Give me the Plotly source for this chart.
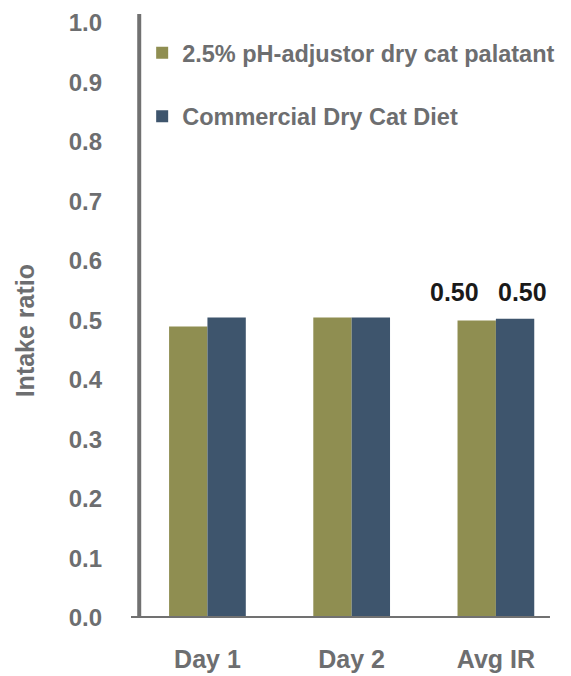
import plotly.graph_objects as go

# Intake ratio per day and averaged, for the two diets
categories = ["Day 1", "Day 2", "Avg IR"]
palatant_name = "2.5% pH-adjustor dry cat palatant"
commercial_name = "Commercial Dry Cat Diet"
palatant_values = [0.49, 0.505, 0.50]
commercial_values = [0.505, 0.505, 0.503]
y_ticks = [0.0, 0.1, 0.2, 0.3, 0.4, 0.5, 0.6, 0.7, 0.8, 0.9, 1.0]
y_title = "Intake ratio"

OLIVE = "#8f8e51"
NAVY = "#3e556d"
GREY_TEXT = "#6d6e70"
AXIS_GREY = "#717171"
FONT = "Liberation Sans"

fig = go.Figure()
fig.add_trace(go.Bar(x=categories, y=palatant_values, name=palatant_name,
                     marker=dict(color=OLIVE, line=dict(width=0)), legendgroup="a"))
fig.add_trace(go.Bar(x=categories, y=commercial_values, name=commercial_name,
                     marker=dict(color=NAVY, line=dict(width=0)), legendgroup="b"))

# Value labels over the averaged pair
fig.add_annotation(x=categories[2], y=palatant_values[2], text=f"<b>{palatant_values[2]:.2f}</b>",
                   showarrow=False, xshift=-41, yshift=28,
                   font=dict(family=FONT, size=25, color="#1a1a1a"))
fig.add_annotation(x=categories[2], y=commercial_values[2], text=f"<b>{commercial_values[2]:.2f}</b>",
                   showarrow=False, xshift=27, yshift=27,
                   font=dict(family=FONT, size=25, color="#1a1a1a"))

# Rotated y-axis title, placed a little below the plot's mid-height
fig.add_annotation(xref="paper", yref="paper", x=-0.235, y=0.476, text=f"<b>{y_title}</b>",
                   textangle=-90, showarrow=False, xanchor="center", yanchor="middle",
                   font=dict(family=FONT, size=25, color=GREY_TEXT))

# Axis lines crossing at the origin
fig.add_shape(type="line", xref="x", yref="y", x0=-0.53, x1=2.375, y0=0, y1=0,
              line=dict(color=AXIS_GREY, width=4), layer="above")
fig.add_shape(type="line", xref="x", yref="y", x0=-0.473, x1=-0.473, y0=-0.017, y1=1.015,
              line=dict(color=AXIS_GREY, width=4), layer="above")

fig.update_layout(
    width=571, height=676,
    margin=dict(l=129, r=3, t=14, b=56),
    paper_bgcolor="white", plot_bgcolor="white",
    barmode="group", bargap=0.468, bargroupgap=0,
    font=dict(family=FONT, color=GREY_TEXT, size=24),
    showlegend=True,
    legend=dict(x=0.03, y=0.972, xanchor="left", yanchor="top",
                traceorder="grouped", tracegroupgap=30,
                font=dict(family=FONT, size=23.5, color=GREY_TEXT, weight="bold"),
                bgcolor="rgba(0,0,0,0)"),
    xaxis=dict(showline=False, showgrid=False, zeroline=False, ticks="",
               tickfont=dict(family=FONT, size=25, color=GREY_TEXT, weight="bold"),
               ticklabelstandoff=24),
    yaxis=dict(range=[0, 1.015], tickvals=y_ticks, tickformat=".1f",
               showline=False, showgrid=False, zeroline=False, ticks="",
               tickfont=dict(family=FONT, size=24, color=GREY_TEXT, weight="bold"),
               ticklabelstandoff=26),
)

fig.write_html("out.html")
